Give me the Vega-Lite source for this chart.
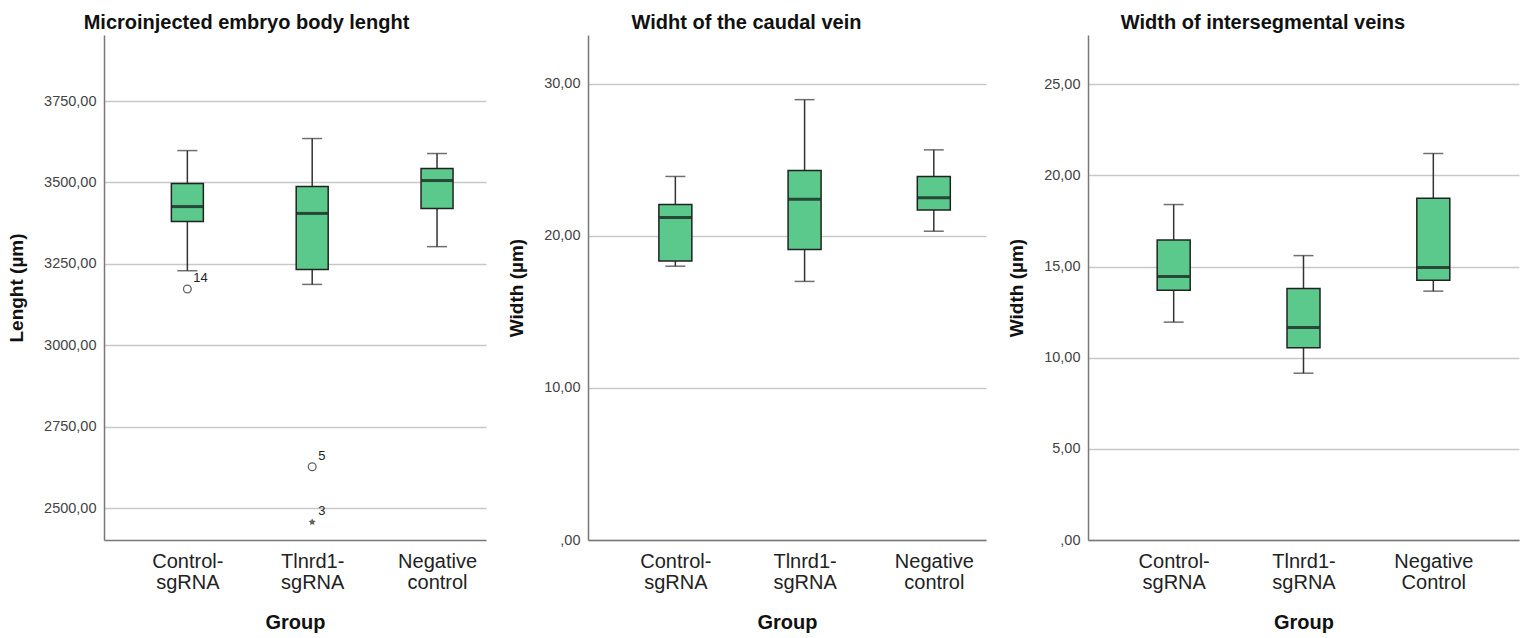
{
  "$schema": "https://vega.github.io/schema/vega-lite/v6.json",
  "background": "white",
  "padding": {"left": 7, "top": 13, "right": 4, "bottom": 2},
  "spacing": 21,
  "config": {
    "view": {"stroke": null},
    "font": "Liberation Sans",
    "title": {"fontSize": 20, "fontWeight": "bold", "color": "#111", "anchor": "middle", "frame": "bounds", "offset": 2},
    "axis": {"domainColor": "#777", "domainWidth": 1.5, "ticks": false, "labelFont": "Liberation Sans", "titleFont": "Liberation Sans", "titleFontWeight": "bold", "titleColor": "#111"},
    "axisY": {"grid": true, "gridColor": "#c8c8c8", "gridWidth": 1.5, "labelFontSize": 14.5, "labelColor": "#444", "labelPadding": 8, "titlePadding": 18, "titleFontSize": 19},
    "axisX": {"grid": false, "labelFontSize": 20, "labelColor": "#222", "labelPadding": 11, "labelLineHeight": 21, "labelAngle": 0, "titlePadding": 20, "titleFontSize": 20}
  },
  "datasets": {
    "len": [
      {"group": "Control-sgRNA", "lo": 3229, "q1": 3380, "med": 3426, "q3": 3497, "hi": 3598},
      {"group": "Tlnrd1-sgRNA", "lo": 3187, "q1": 3233, "med": 3405, "q3": 3488, "hi": 3635},
      {"group": "Negative control", "lo": 3303, "q1": 3420, "med": 3506, "q3": 3543, "hi": 3589}
    ],
    "lenOut": [
      {"group": "Control-sgRNA", "value": 3173, "label": "14", "kind": "o"},
      {"group": "Tlnrd1-sgRNA", "value": 2627, "label": "5", "kind": "o"},
      {"group": "Tlnrd1-sgRNA", "value": 2457, "label": "3", "kind": "*"}
    ],
    "cv": [
      {"group": "Control-sgRNA", "lo": 18.0, "q1": 18.35, "med": 21.2, "q3": 22.05, "hi": 23.9},
      {"group": "Tlnrd1-sgRNA", "lo": 17.0, "q1": 19.1, "med": 22.4, "q3": 24.3, "hi": 28.95},
      {"group": "Negative control", "lo": 20.3, "q1": 21.7, "med": 22.5, "q3": 23.9, "hi": 25.65}
    ],
    "isv": [
      {"group": "Control-sgRNA", "lo": 11.95, "q1": 13.7, "med": 14.45, "q3": 16.45, "hi": 18.4},
      {"group": "Tlnrd1-sgRNA", "lo": 9.15, "q1": 10.55, "med": 11.65, "q3": 13.8, "hi": 15.6},
      {"group": "Negative Control", "lo": 13.65, "q1": 14.25, "med": 14.95, "q3": 18.75, "hi": 21.2}
    ]
  },
  "hconcat": [
    {
      "title": "Microinjected embryo body lenght",
      "width": 382, "height": 505,
      "encoding": {
        "x": {"field": "group", "type": "nominal",
          "scale": {"type": "point", "domain": ["Control-sgRNA", "Tlnrd1-sgRNA", "Negative control"], "padding": 0.53, "align": 0.63},
          "axis": {"title": "Group", "labelExpr": "split(replace(replace(datum.value,'-','-|'),' ','|'),'|')"}}
      },
      "layer": [
        {"data": {"name": "len"}, "mark": {"type": "rule", "color": "#333", "strokeWidth": 1.5},
          "encoding": {"y": {"field": "lo", "type": "quantitative",
            "scale": {"domain": [2402, 3953], "nice": false, "zero": false},
            "axis": {"title": "Lenght (µm)", "minExtent": 60, "maxExtent": 60, "values": [2500, 2750, 3000, 3250, 3500, 3750], "labelExpr": "replace(format(datum.value,'.2f'),'.',',')"}},
            "y2": {"field": "hi"}}},
        {"data": {"name": "len"}, "mark": {"type": "tick", "color": "#333", "thickness": 1.5, "size": 20},
          "encoding": {"y": {"field": "lo", "type": "quantitative"}}},
        {"data": {"name": "len"}, "mark": {"type": "tick", "color": "#333", "thickness": 1.5, "size": 20},
          "encoding": {"y": {"field": "hi", "type": "quantitative"}}},
        {"data": {"name": "len"}, "mark": {"type": "bar", "size": 32, "fill": "#5BC98C", "stroke": "#222", "strokeWidth": 1.5},
          "encoding": {"y": {"field": "q1", "type": "quantitative"}, "y2": {"field": "q3"}}},
        {"data": {"name": "len"}, "mark": {"type": "tick", "color": "#111", "thickness": 3, "size": 31},
          "encoding": {"y": {"field": "med", "type": "quantitative"}}},
        {"data": {"name": "lenOut"}, "transform": [{"filter": "datum.kind == 'o'"}],
          "mark": {"type": "point", "shape": "circle", "filled": false, "size": 60, "color": "#222", "strokeWidth": 1.3},
          "encoding": {"y": {"field": "value", "type": "quantitative"}}},
        {"data": {"name": "lenOut"}, "transform": [{"filter": "datum.kind == '*'"}],
          "mark": {"type": "point", "shape": "M0,-1L0.29,-0.4L0.95,-0.31L0.47,0.15L0.59,0.81L0,0.5L-0.59,0.81L-0.47,0.15L-0.95,-0.31L-0.29,-0.4Z", "filled": true, "size": 55, "color": "#222"},
          "encoding": {"y": {"field": "value", "type": "quantitative"}}},
        {"data": {"name": "lenOut"}, "mark": {"type": "text", "align": "left", "dx": 6, "dy": -11, "fontSize": 13, "color": "#222"},
          "encoding": {"y": {"field": "value", "type": "quantitative"}, "text": {"field": "label"}}}
      ]
    },
    {
      "title": "Widht of the caudal vein",
      "width": 398, "height": 505,
      "encoding": {
        "x": {"field": "group", "type": "nominal",
          "scale": {"type": "point", "domain": ["Control-sgRNA", "Tlnrd1-sgRNA", "Negative control"], "padding": 0.54, "align": 0.626},
          "axis": {"title": "Group", "labelExpr": "split(replace(replace(datum.value,'-','-|'),' ','|'),'|')"}}
      },
      "layer": [
        {"data": {"name": "cv"}, "mark": {"type": "rule", "color": "#333", "strokeWidth": 1.5},
          "encoding": {"y": {"field": "lo", "type": "quantitative",
            "scale": {"domain": [0, 33.2], "nice": false},
            "axis": {"title": "Width (µm)", "minExtent": 44, "maxExtent": 44, "values": [0, 10, 20, 30], "labelExpr": "datum.value == 0 ? ',00' : replace(format(datum.value,'.2f'),'.',',')"}},
            "y2": {"field": "hi"}}},
        {"data": {"name": "cv"}, "mark": {"type": "tick", "color": "#333", "thickness": 1.5, "size": 20},
          "encoding": {"y": {"field": "lo", "type": "quantitative"}}},
        {"data": {"name": "cv"}, "mark": {"type": "tick", "color": "#333", "thickness": 1.5, "size": 20},
          "encoding": {"y": {"field": "hi", "type": "quantitative"}}},
        {"data": {"name": "cv"}, "mark": {"type": "bar", "size": 33, "fill": "#5BC98C", "stroke": "#222", "strokeWidth": 1.5},
          "encoding": {"y": {"field": "q1", "type": "quantitative"}, "y2": {"field": "q3"}}},
        {"data": {"name": "cv"}, "mark": {"type": "tick", "color": "#111", "thickness": 3, "size": 32},
          "encoding": {"y": {"field": "med", "type": "quantitative"}}}
      ]
    },
    {
      "title": "Width of intersegmental veins",
      "width": 431, "height": 505,
      "encoding": {
        "x": {"field": "group", "type": "nominal",
          "scale": {"type": "point", "domain": ["Control-sgRNA", "Tlnrd1-sgRNA", "Negative Control"], "padding": 0.66, "align": 0.5},
          "axis": {"title": "Group", "labelExpr": "split(replace(replace(datum.value,'-','-|'),' ','|'),'|')"}}
      },
      "layer": [
        {"data": {"name": "isv"}, "mark": {"type": "rule", "color": "#333", "strokeWidth": 1.5},
          "encoding": {"y": {"field": "lo", "type": "quantitative",
            "scale": {"domain": [0, 27.7], "nice": false},
            "axis": {"title": "Width (µm)", "minExtent": 44, "maxExtent": 44, "values": [0, 5, 10, 15, 20, 25], "labelExpr": "datum.value == 0 ? ',00' : replace(format(datum.value,'.2f'),'.',',')"}},
            "y2": {"field": "hi"}}},
        {"data": {"name": "isv"}, "mark": {"type": "tick", "color": "#333", "thickness": 1.5, "size": 20},
          "encoding": {"y": {"field": "lo", "type": "quantitative"}}},
        {"data": {"name": "isv"}, "mark": {"type": "tick", "color": "#333", "thickness": 1.5, "size": 20},
          "encoding": {"y": {"field": "hi", "type": "quantitative"}}},
        {"data": {"name": "isv"}, "mark": {"type": "bar", "size": 33, "fill": "#5BC98C", "stroke": "#222", "strokeWidth": 1.5},
          "encoding": {"y": {"field": "q1", "type": "quantitative"}, "y2": {"field": "q3"}}},
        {"data": {"name": "isv"}, "mark": {"type": "tick", "color": "#111", "thickness": 3, "size": 32},
          "encoding": {"y": {"field": "med", "type": "quantitative"}}}
      ]
    }
  ]
}
